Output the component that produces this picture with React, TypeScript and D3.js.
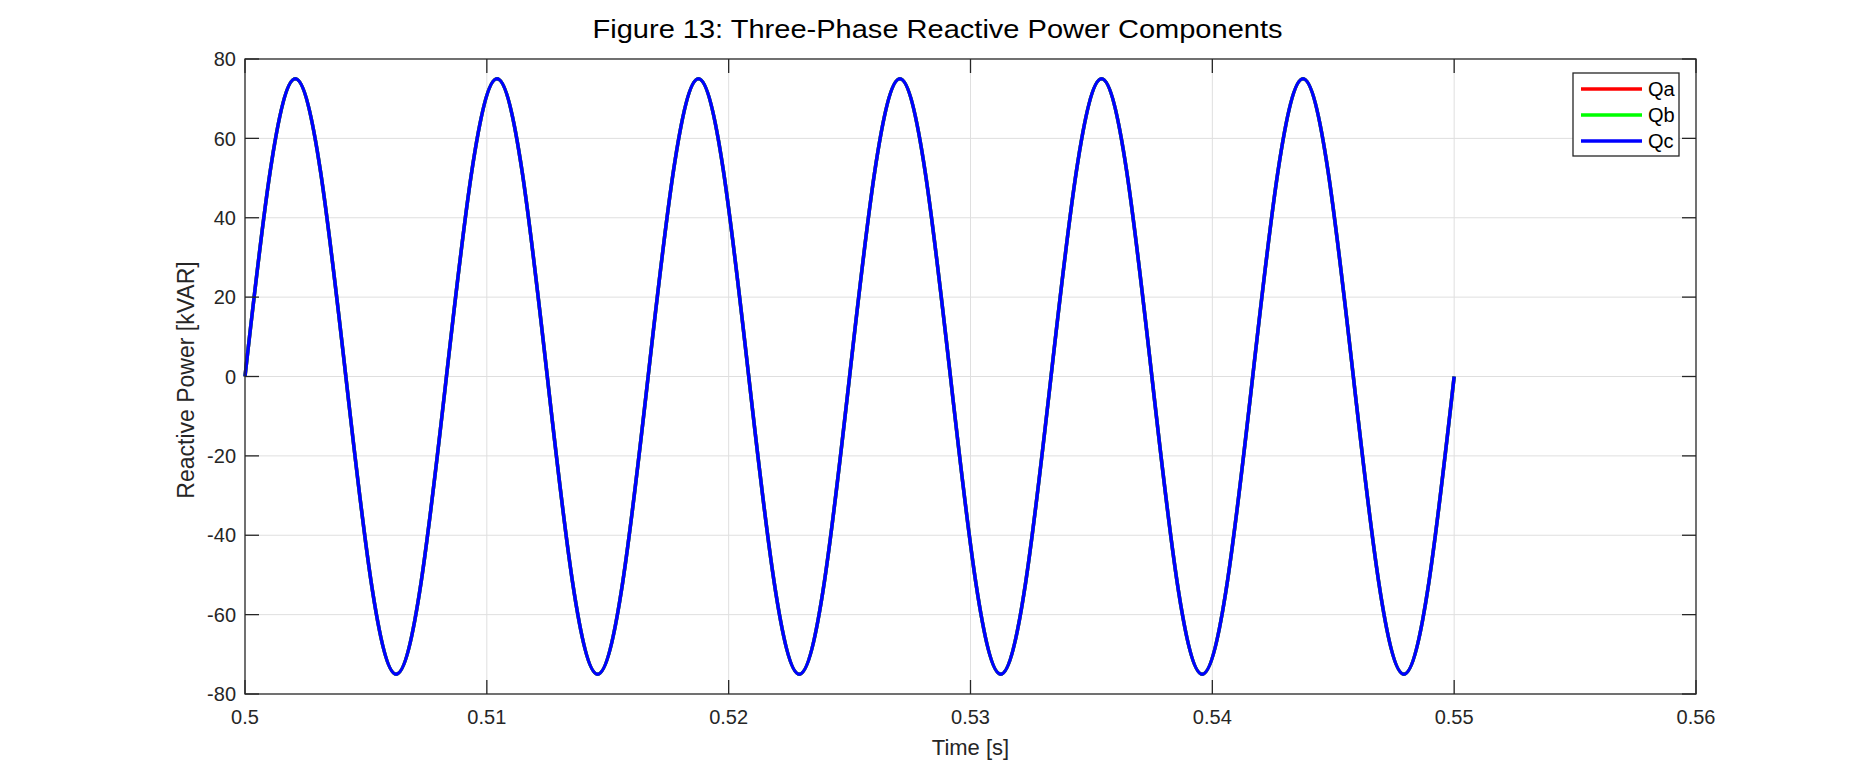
import * as d3 from 'd3';

// Values: zero crossings and peaks (kVAR) vs time (s)
const timeS = [
  0.5, 0.50208, 0.50417, 0.50625, 0.50833, 0.51042, 0.5125, 0.51458, 0.51667,
  0.51875, 0.52083, 0.52292, 0.525, 0.52708, 0.52917, 0.53125, 0.53333, 0.53542,
  0.5375, 0.53958, 0.54167, 0.54375, 0.54583, 0.54792, 0.55,
];
const qa = [0, 75, 0, -75, 0, 75, 0, -75, 0, 75, 0, -75, 0, 75, 0, -75, 0, 75, 0, -75, 0, 75, 0, -75, 0];
const qb = [0, 75, 0, -75, 0, 75, 0, -75, 0, 75, 0, -75, 0, 75, 0, -75, 0, 75, 0, -75, 0, 75, 0, -75, 0];
const qc = [0, 75, 0, -75, 0, 75, 0, -75, 0, 75, 0, -75, 0, 75, 0, -75, 0, 75, 0, -75, 0, 75, 0, -75, 0];

const seriesNames = ['Qa', 'Qb', 'Qc'];
const seriesColors = ['#ff0000', '#00ff00', '#0000ff'];
const xTicks = [0.5, 0.51, 0.52, 0.53, 0.54, 0.55, 0.56];
const yTicks = [-80, -60, -40, -20, 0, 20, 40, 60, 80];

const W = 1875;
const H = 781;
const margin = { left: 245, right: 179, top: 59, bottom: 87 };
const axisColor = '#262626';
const font = '"Liberation Sans", Arial, sans-serif';

const App = () => {
  const x = d3
    .scaleLinear()
    .domain([0.5, 0.56])
    .range([margin.left, W - margin.right]);
  const y = d3
    .scaleLinear()
    .domain([-80, 80])
    .range([H - margin.bottom, margin.top]);

  const line = d3
    .line<[number, number]>()
    .x((d) => x(d[0]))
    .y((d) => y(d[1]))
    .curve(d3.curveNatural);

  const series = [qa, qb, qc].map((vals) =>
    timeS.map((t, i) => [t, vals[i]] as [number, number]),
  );

  const [x0, x1] = x.range();
  const [y0, y1] = y.range();
  const tickLen = 14;

  // legend box
  const lg = { x: 1573, y: 73, w: 106, h: 83 };

  return (
    <svg
      width={W}
      height={H}
      style={{ position: 'absolute', left: 0, top: 0, background: '#fff' }}
      fontFamily={font}
    >
      <rect width={W} height={H} fill='#fff' />

      {/* grid */}
      <g stroke='#dfdfdf' strokeWidth={1}>
        {xTicks.slice(1, -1).map((t) => (
          <line key={'gx' + t} x1={x(t)} x2={x(t)} y1={y1} y2={y0} />
        ))}
        {yTicks.slice(1, -1).map((t) => (
          <line key={'gy' + t} x1={x0} x2={x1} y1={y(t)} y2={y(t)} />
        ))}
      </g>

      {/* data */}
      <g fill='none' strokeWidth={3.5} strokeLinejoin='round'>
        {series.map((s, i) => (
          <path key={seriesNames[i]} d={line(s) ?? ''} stroke={seriesColors[i]} />
        ))}
      </g>

      {/* ticks */}
      <g stroke={axisColor} strokeWidth={1.3}>
        {xTicks.map((t) => (
          <g key={'tx' + t}>
            <line x1={x(t)} x2={x(t)} y1={y0} y2={y0 - tickLen} />
            <line x1={x(t)} x2={x(t)} y1={y1} y2={y1 + tickLen} />
          </g>
        ))}
        {yTicks.map((t) => (
          <g key={'ty' + t}>
            <line x1={x0} x2={x0 + tickLen} y1={y(t)} y2={y(t)} />
            <line x1={x1} x2={x1 - tickLen} y1={y(t)} y2={y(t)} />
          </g>
        ))}
      </g>

      {/* box */}
      <rect
        x={x0}
        y={y1}
        width={x1 - x0}
        height={y0 - y1}
        fill='none'
        stroke={axisColor}
        strokeWidth={1.3}
      />

      {/* tick labels */}
      <g fill={axisColor} fontSize={20}>
        {xTicks.map((t) => (
          <text key={'lx' + t} x={x(t)} y={724} textAnchor='middle'>
            {String(t)}
          </text>
        ))}
        {yTicks.map((t) => (
          <text key={'ly' + t} x={x0 - 9} y={y(t)} dy='0.36em' textAnchor='end'>
            {String(t)}
          </text>
        ))}
      </g>

      {/* axis labels */}
      <text x={(x0 + x1) / 2} y={755} textAnchor='middle' fontSize={22} fill={axisColor}>
        Time [s]
      </text>
      <text
        transform={`translate(194, 380) rotate(-90)`}
        textAnchor='middle'
        fontSize={23}
        fill={axisColor}
      >
        Reactive Power [kVAR]
      </text>

      {/* title */}
      <text
        x={W / 2}
        y={38}
        textAnchor='middle'
        fontSize={26}
        textLength={690}
        lengthAdjust='spacingAndGlyphs'
        fill='#000'
      >
        Figure 13: Three-Phase Reactive Power Components
      </text>

      {/* legend */}
      <g>
        <rect
          x={lg.x}
          y={lg.y}
          width={lg.w}
          height={lg.h}
          fill='#fff'
          stroke={axisColor}
          strokeWidth={1.3}
        />
        {seriesNames.map((name, i) => (
          <g key={'lg' + name} transform={`translate(${lg.x}, ${lg.y + 16 + i * 26})`}>
            <line x1={8} x2={69} y1={0} y2={0} stroke={seriesColors[i]} strokeWidth={3.5} />
            <text x={75} y={0} dy='0.36em' fontSize={20} fill='#000'>
              {name}
            </text>
          </g>
        ))}
      </g>
    </svg>
  );
};

export default App;
